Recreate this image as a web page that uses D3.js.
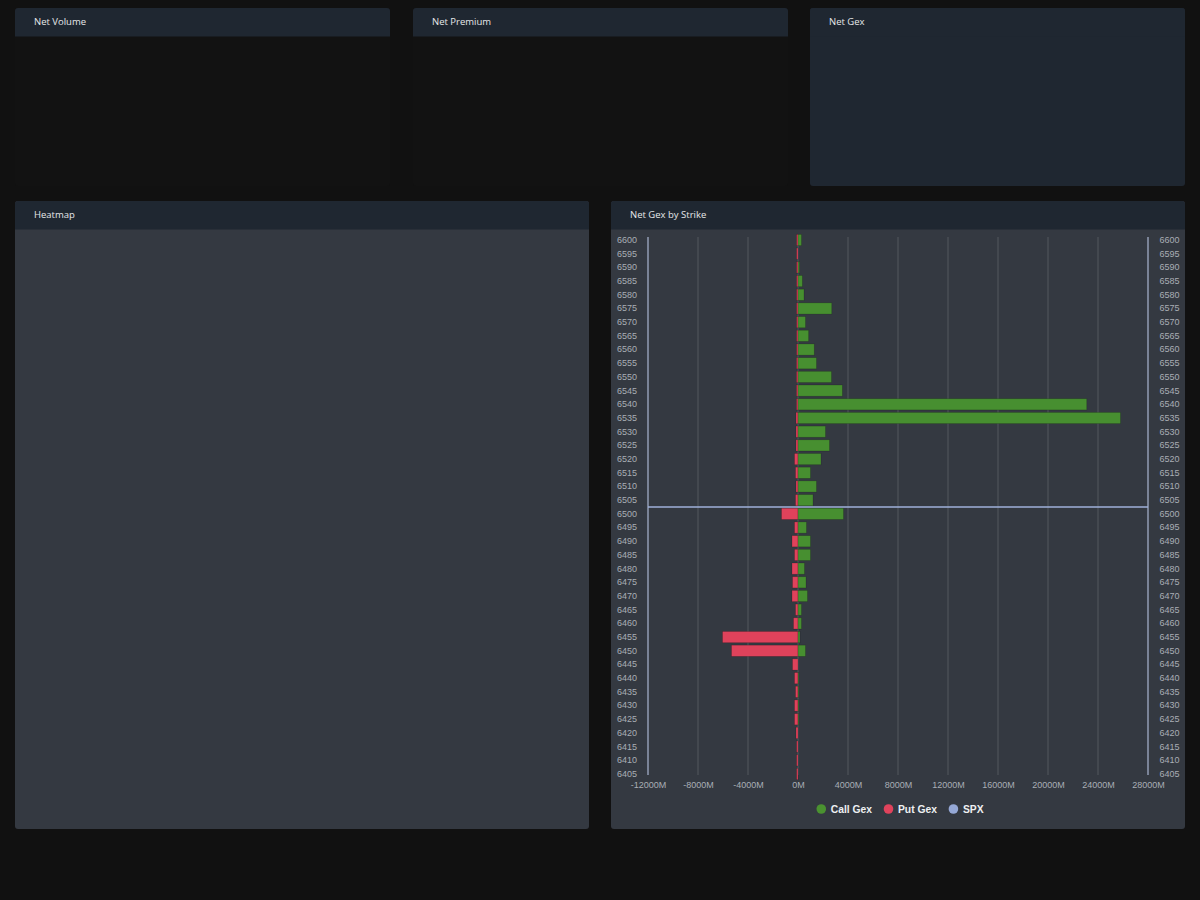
<!DOCTYPE html>
<html>
<head>
<meta charset="utf-8">
<script src="https://cdn.jsdelivr.net/npm/d3@7"></script>
<style>
  html, body { margin: 0; padding: 0; background: #111111; }
  svg { display: block; }
</style>
</head>
<body>
<div id="dash"></div>
<script>
// strikes, top to bottom
const strikes = [6600, 6595, 6590, 6585, 6580, 6575, 6570, 6565, 6560, 6555,
                 6550, 6545, 6540, 6535, 6530, 6525, 6520, 6515, 6510, 6505,
                 6500, 6495, 6490, 6485, 6480, 6475, 6470, 6465, 6460, 6455,
                 6450, 6445, 6440, 6435, 6430, 6425, 6420, 6415, 6410, 6405];

// call gex per strike (M)
const callGex = [280, 0, 120, 350, 480, 2700, 600, 850, 1300, 1480,
                 2680, 3550, 23100, 25800, 2200, 2520, 1840, 1000, 1480, 1200,
                 3640, 680, 1000, 1000, 520, 640, 760, 280, 280, 160,
                 600, 0, 60, 60, 60, 60, 0, 0, 0, 0];

// put gex per strike (M)
const putGex = [-30, -40, -30, -30, -30, -30, -30, -30, -30, -120,
                -120, -120, -120, -160, -160, -160, -280, -200, -160, -200,
                -1320, -280, -480, -280, -480, -440, -480, -200, -360, -6040,
                -5320, -440, -280, -200, -280, -280, -160, -100, -100, -100];

const spxPrice = 6502.5;
const xTicks = [-12000, -8000, -4000, 0, 4000, 8000, 12000, 16000, 20000, 24000, 28000];
const legendItems = [
    {name: 'Call Gex', color: '#4a9230'},
    {name: 'Put Gex', color: '#e0435c'},
    {name: 'SPX', color: '#95a8d6'}
];

const panels = [
    {title: 'Net Volume', x: 15, y: 8, w: 375, h: 178, body: '#121212'},
    {title: 'Net Premium', x: 413, y: 8, w: 375, h: 178, body: '#121212'},
    {title: 'Net Gex', x: 810, y: 8, w: 375, h: 178, body: '#1f2731'},
    {title: 'Heatmap', x: 15, y: 201, w: 574, h: 628, body: '#343941'},
    {title: 'Net Gex by Strike', x: 611, y: 201, w: 574, h: 628, body: '#343941'}
];

const svg = d3.select('#dash')
    .append('svg')
    .attr('width', 1200)
    .attr('height', 900);

// panels
panels.forEach(p => {
    const g = svg.append('g').attr('transform', `translate(${p.x},${p.y})`);
    g.append('rect')
        .attr('width', p.w).attr('height', p.h)
        .attr('rx', 3)
        .attr('fill', p.body);
    g.append('path')
        .attr('d', `M0,28.5 V3 Q0,0 3,0 H${p.w - 3} Q${p.w},0 ${p.w},3 V28.5 Z`)
        .attr('fill', '#1f2731');
    g.append('text')
        .attr('x', 19)
        .attr('y', 17)
        .attr('fill', '#e6e8ea')
        .style('font-family', '"Open Sans", "Noto Sans", sans-serif')
        .style('font-size', '9.5px')
        .text(p.title);
});

// chart
const x = d3.scaleLinear().domain([-12000, 28000]).range([648, 1148]);
const y = d3.scaleBand().domain(strikes).range([233.15, 780.85]).paddingInner(0.18).paddingOuter(0.09);
const yPrice = d3.scaleLinear().domain([6600, 6405]).range([240, 774]);
const plotTop = 237, plotBottom = 775;

const chart = svg.append('g');

// grid
chart.selectAll('.grid')
    .data(xTicks.slice(1, -1))
    .enter()
    .append('line')
    .attr('x1', d => x(d)).attr('x2', d => x(d))
    .attr('y1', plotTop).attr('y2', plotBottom)
    .attr('stroke', '#52585f')
    .attr('stroke-width', 1);

// axis lines
[xTicks[0], xTicks[xTicks.length - 1]].forEach(v => {
    chart.append('line')
        .attr('x1', x(v)).attr('x2', x(v))
        .attr('y1', plotTop).attr('y2', plotBottom)
        .attr('stroke', '#aab6d0')
        .attr('stroke-width', 1.2);
});

// put bars
chart.selectAll('.put')
    .data(strikes.map((s, i) => ({s, v: putGex[i]})))
    .enter()
    .append('rect')
    .attr('x', d => Math.min(x(d.v), x(0) - 1.4))
    .attr('y', d => y(d.s))
    .attr('width', d => Math.max(x(0) - x(d.v), 1.4))
    .attr('height', y.bandwidth())
    .attr('fill', '#df425b')
    .attr('stroke', 'rgba(0,0,0,0.2)')
    .attr('stroke-width', 0.8);

// call bars
chart.selectAll('.call')
    .data(strikes.map((s, i) => ({s, v: callGex[i]})).filter(d => d.v > 0))
    .enter()
    .append('rect')
    .attr('x', x(0))
    .attr('y', d => y(d.s))
    .attr('width', d => x(d.v) - x(0))
    .attr('height', y.bandwidth())
    .attr('fill', '#478f30')
    .attr('stroke', 'rgba(0,0,0,0.2)')
    .attr('stroke-width', 0.8);

// spx line
chart.append('line')
    .attr('x1', x(xTicks[0])).attr('x2', x(xTicks[xTicks.length - 1]))
    .attr('y1', yPrice(spxPrice)).attr('y2', yPrice(spxPrice))
    .attr('stroke', '#9fb1da')
    .attr('stroke-width', 1.6);

function styleAxis(g) {
    g.select('.domain').remove();
    g.selectAll('text')
        .attr('fill', '#a9aeb5')
        .style('font-family', '"Liberation Sans", Arial, sans-serif')
        .style('font-size', '9px');
}

chart.append('g')
    .attr('transform', `translate(${x(xTicks[0])},0)`)
    .call(d3.axisLeft(y).tickSize(0).tickPadding(11))
    .call(styleAxis);

chart.append('g')
    .attr('transform', `translate(${x(xTicks[xTicks.length - 1])},0)`)
    .call(d3.axisRight(y).tickSize(0).tickPadding(11.5))
    .call(styleAxis);

chart.append('g')
    .attr('transform', `translate(0,${plotBottom})`)
    .call(d3.axisBottom(x).tickValues(xTicks).tickSize(0).tickPadding(7).tickFormat(d => d + 'M'))
    .call(styleAxis);

// legend
const legend = chart.append('g').attr('transform', 'translate(0,809)');
let lx = 0;
const items = legend.selectAll('.item')
    .data(legendItems)
    .enter()
    .append('g');
items.append('circle')
    .attr('r', 4.8)
    .attr('cx', 0)
    .attr('fill', d => d.color);
items.append('text')
    .attr('x', 9.5)
    .attr('dy', '0.35em')
    .attr('fill', '#eef0f2')
    .style('font-family', '"Liberation Sans", Arial, sans-serif')
    .style('font-size', '10.3px')
    .style('font-weight', 'bold')
    .text(d => d.name);
items.each(function() {
    const w = this.querySelector('text').getComputedTextLength();
    d3.select(this).attr('transform', `translate(${lx},0)`);
    lx += 9.5 + w + 16.5;
});
const total = lx - 16.5 + 4.8;
legend.attr('transform', `translate(${900 - total / 2 + 4.8},809)`);
</script>
</body>
</html>
